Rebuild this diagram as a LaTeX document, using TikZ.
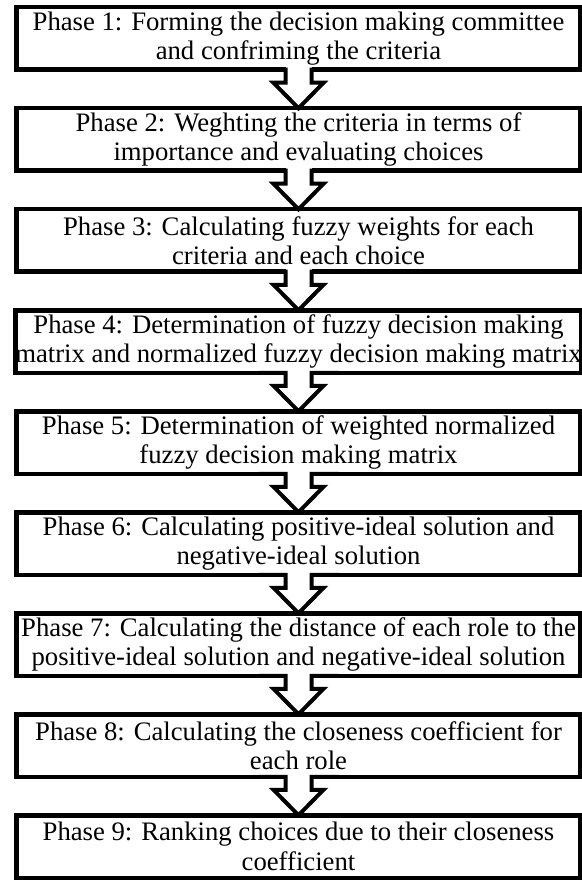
\documentclass[tikz,border=0pt]{standalone}
\usepackage{fontspec}
\setmainfont{Liberation Serif}
\usepackage{tikz}
\usetikzlibrary{positioning}

\tikzset{phase/.style={draw, line width=4.5pt, outer sep=0pt, inner sep=0pt,
	minimum width=564pt, minimum height=62.5pt, align=center,
	font=\fontsize{26.7}{29.5}\selectfont}}

\begin{document}
\begin{tikzpicture}[x=1pt,y=1pt]
\useasboundingbox (0,0) rectangle (581,-882);

\node[phase] (p1) at (298.5,-38.5) {Phase 1: Forming the decision making committee\\and confriming the criteria};
\node[phase, below=38.5pt of p1] (p2) {Phase 2: Weghting the criteria in terms of\\importance and evaluating choices};
\node[phase, below=38.5pt of p2] (p3) {Phase 3: Calculating fuzzy weights for each\\criteria and each choice};
\node[phase, below=38.5pt of p3] (p4) {Phase 4: Determination of fuzzy decision making\\matrix and normalized fuzzy decision making matrix};
\node[phase, below=38.5pt of p4] (p5) {Phase 5: Determination of weighted normalized\\fuzzy decision making matrix};
\node[phase, below=38.5pt of p5] (p6) {Phase 6: Calculating positive-ideal solution and\\negative-ideal solution};
\node[phase, below=38.5pt of p6] (p7) {Phase 7: Calculating the distance of each role to the\\positive-ideal solution and negative-ideal solution};
\node[phase, below=38.5pt of p7] (p8) {Phase 8: Calculating the closeness coefficient for\\each role};
\node[phase, below=38.5pt of p8] (p9) {Phase 9: Ranking choices due to their closeness\\coefficient};

% hollow arrows between the phases
\foreach \i in {1,...,8}
	{\pgfmathtruncatemacro{\j}{\i+1}
	\fill [white] ([xshift=-13pt,yshift=3pt]p\i.south) rectangle ([xshift=13pt,yshift=-3pt]p\i.south);
	\draw [line width=4pt] ([xshift=-40pt]p\i.south) -- ([xshift=-13pt]p\i.south)
		-- ([xshift=-13pt,yshift=-13pt]p\i.south) -- ([xshift=-25pt,yshift=-13pt]p\i.south)
		-- (p\j.north) -- ([xshift=25pt,yshift=-13pt]p\i.south)
		-- ([xshift=13pt,yshift=-13pt]p\i.south) -- ([xshift=13pt]p\i.south)
		-- ([xshift=40pt]p\i.south);}

\end{tikzpicture}
\end{document}
